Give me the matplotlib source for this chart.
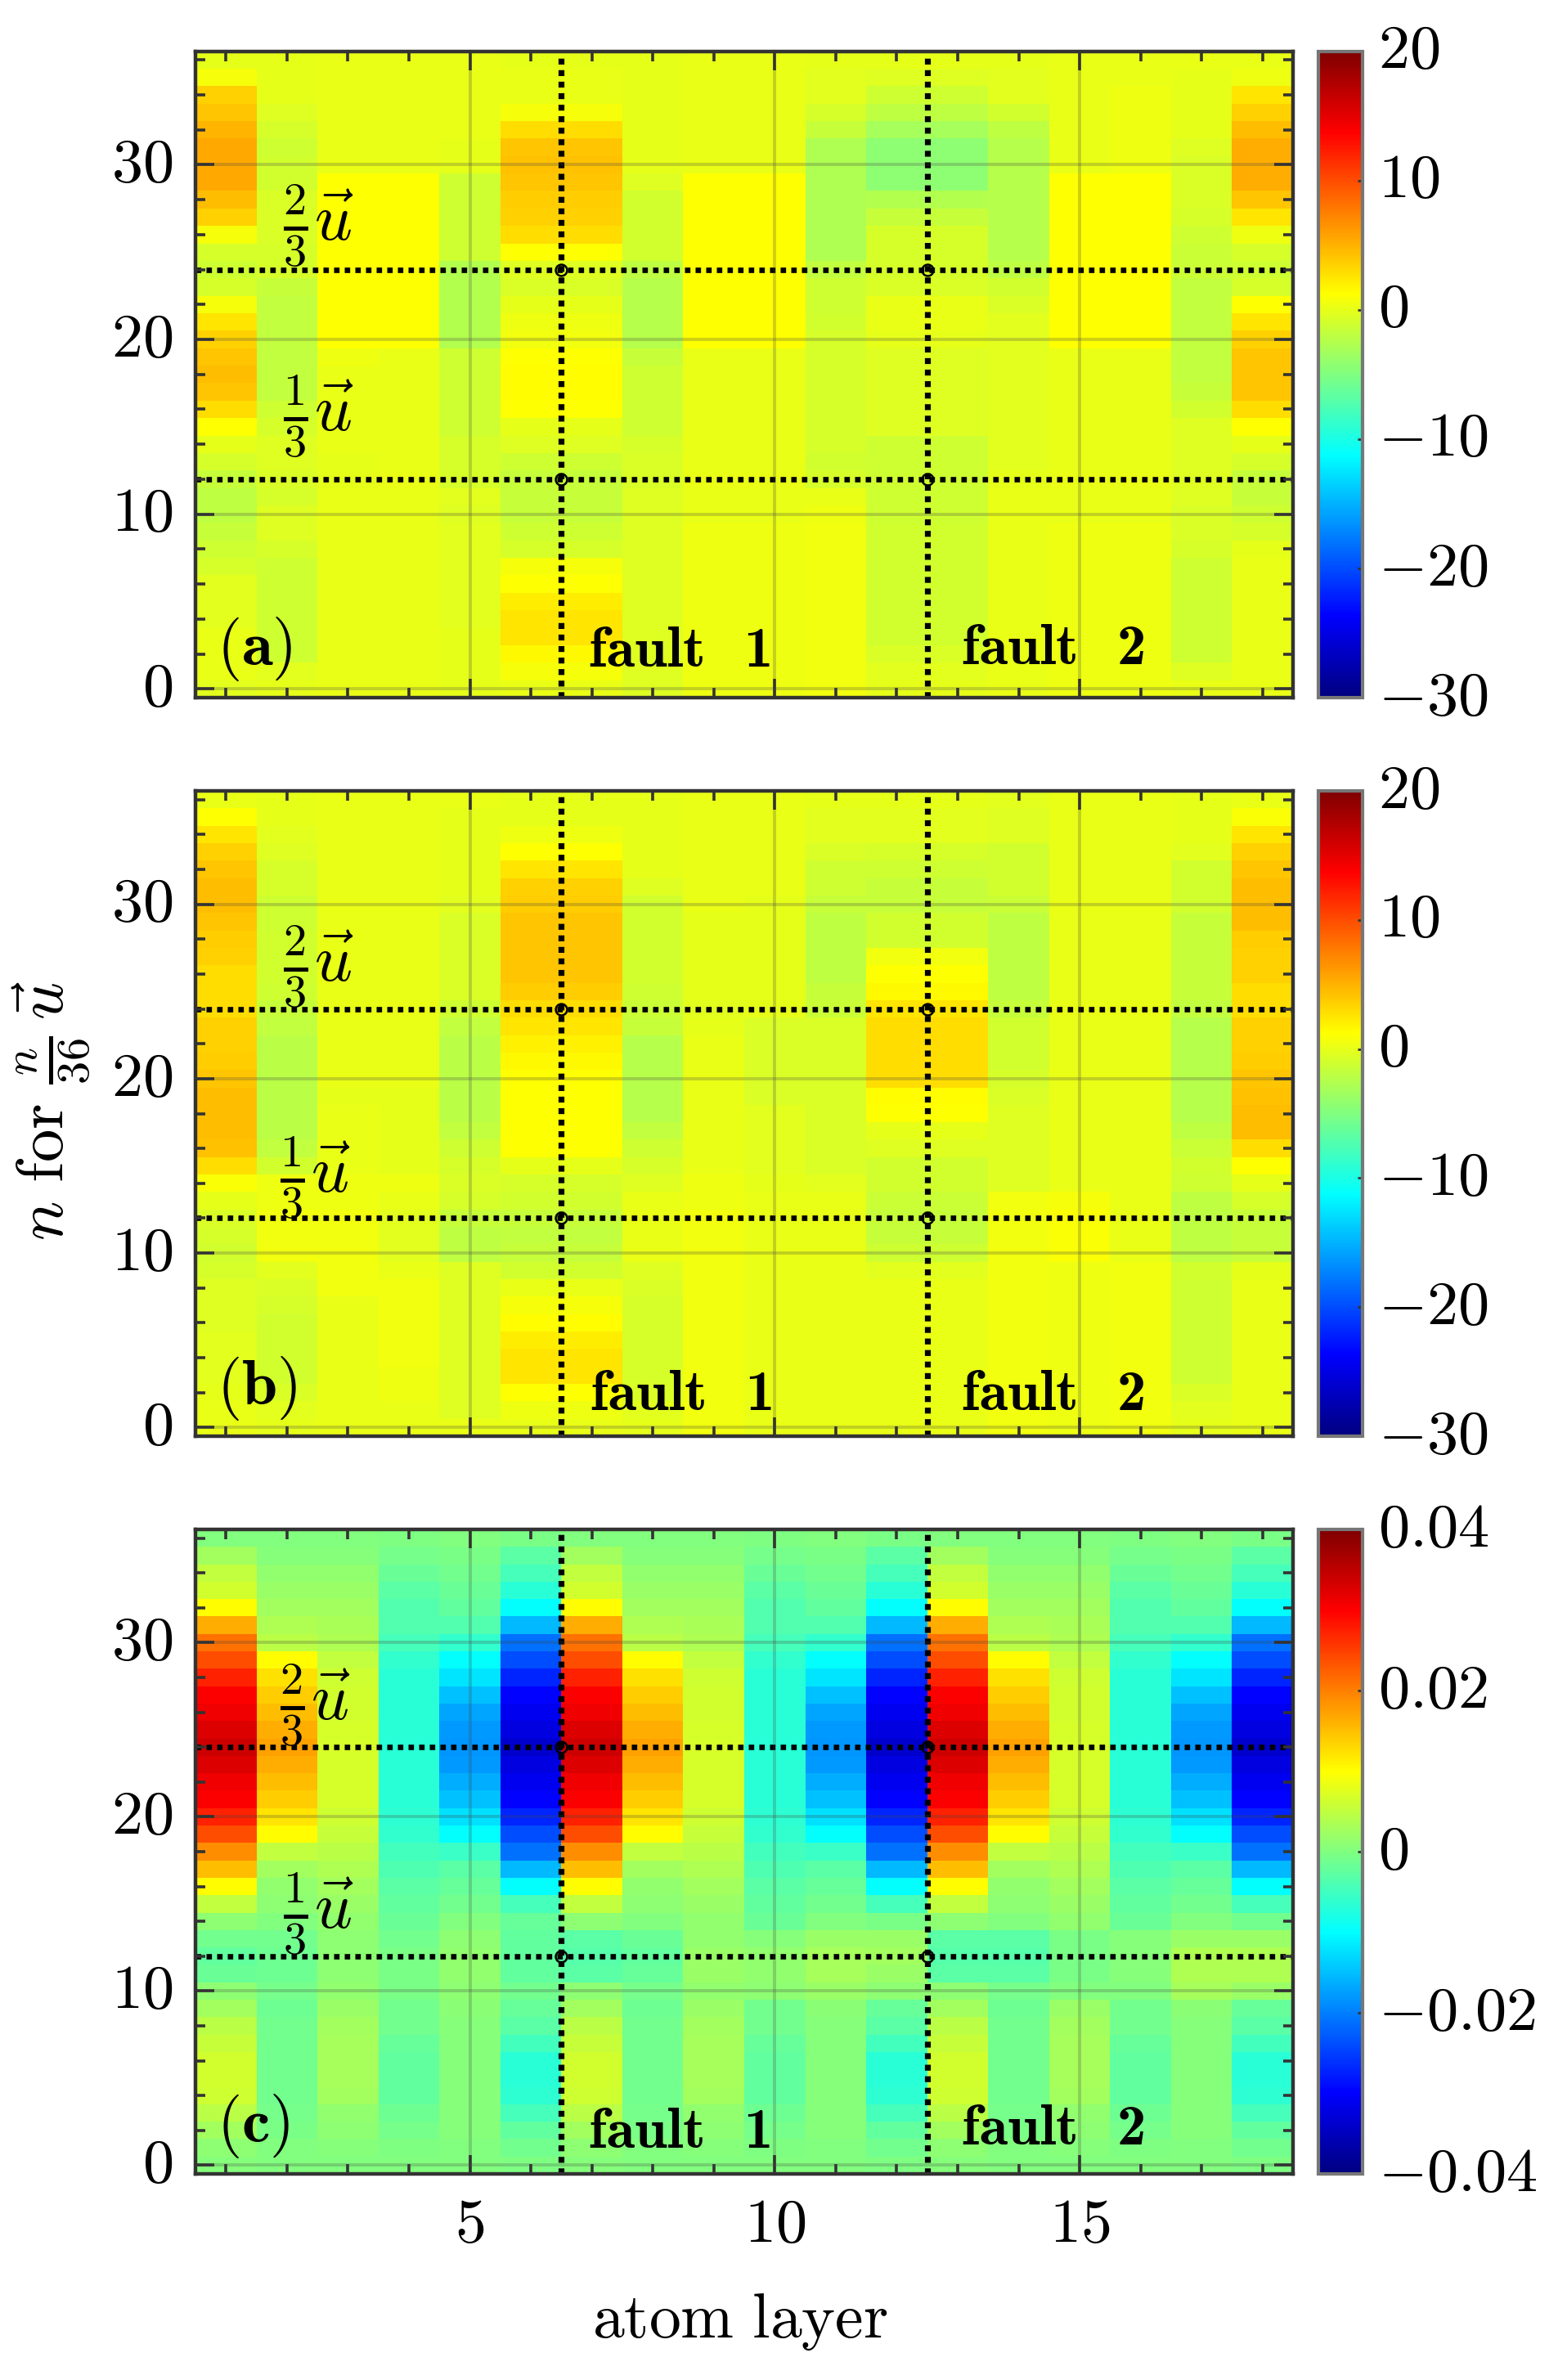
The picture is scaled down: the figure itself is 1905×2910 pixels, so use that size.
import numpy as np
import matplotlib
matplotlib.use('Agg')
import matplotlib.pyplot as plt
from matplotlib.colors import LinearSegmentedColormap
from matplotlib.transforms import ScaledTranslation

plt.rcParams['mathtext.fontset'] = 'cm'
plt.rcParams['font.family'] = ['cmr10', 'DejaVu Sans']
plt.rcParams['axes.formatter.use_mathtext'] = True

# every column runs from n=0 (bottom) to n=36 (top)
# panel (a)
a_col1 = [-.2,.2,.2,.2,-.2,-.2,-.2,-.8,-1.2,-1.6, -2,-2,-1.6,-.8,0,1.2,3,4,4.4,4, 3.4,2.6,.8,-.8,-1.2,-.8,.8,3.4,4.4,5.4, 5.4,5.4,4.8,4,3.4,.8,0]
a_col2 = [0,-.2,-1.2,-1.2,-1.2,-1.2,-1.2,-1.2,-.8,-.4, -.4,-.8,-.6,-.4,-.4,-.8,-1.2,-1.8,-1.8,-1.8, -1.8,-1.8,-1.8,-1.6,-.8,-.8,-.6,-.6,-.6,-1, -1,-1.2,-.8,-.4,0,0,0]
a_col3 = [.2,.2,.2,.2,.2,.2,.2,.2,.2,.2, .2,.1,0,0,.1,.1,.2,.2,.2,.4, 1.2,1.2,1.2,1.2,1.2,1.2,1.2,1.2,1.2,1.2, .1,.1,.2,.2,.2,.2,.1]
a_col4 = [.1,.1,.1,.1,.1,.1,.1,.1,.1,.1, .2,.1,.1,.1,.1,.1,.1,.1,.1,.1, 1.2,1.2,1.2,1.2,1.2,1.2,1.2,1.2,1.2,1.2, .1,.1,.1,.1,.1,.1,.1]
a_col5 = [0,0,0,0,-.2,-.2,-.2,-.2,-.2,-.2, -.4,-.2,-.8,-.8,-.8,-1.2,-1.2,-1.2,-1.2,-1.2, -2.6,-2.6,-2.6,-2.6,-2.6,-1.2,-1.2,-1.2,-1.2,-1.2, 0,0,.1,.1,.1,.1,.1]
a_col6 = [.2,.7,1.6,2.6,2.6,2.2,1.2,.8,-.8,-1.2, -1.6,-1.6,-1.6,-1.2,-.4,0,1.2,1.3,1.3,1.2, .6,.4,0,-.6,-.4,1.2,3,3.4,3.6,4, 4.2,4,3,.8,.2,.2,0]
a_col7 = a_col6
a_col8 = [-.4,-.4,-.4,-.4,-.4,-.4,-.4,-.4,-.4,-.4, -.4,-.4,-.6,-.6,-.8,-1.2,-1.2,-1.2,-1.2,-1.6, -2.4,-2.4,-2.4,-2.4,-2,-1,-1,-1,-1,-.4, 0,0,0,0,0,0,0]
a_col9 = [.3,.3,.3,.3,.3,.3,.3,.3,.3,.3, .2,.2,.1,.1,.2,.2,.2,.2,.2,.2, 1.2,1.2,1.2,1.2,1.2,1.2,1.2,1.2,1.2,1.2, .2,.2,.2,.2,.2,.1,.1]
a_col10 = [.3,.3,.3,.3,.3,.3,.3,.3,.3,.3, .2,.2,.1,.1,.1,.1,.1,.1,.1,.1, 1.2,1.2,1.2,1.2,1.2,1.2,1.2,1.2,1.2,1.2, .1,.1,.1,.1,.1,.1,.1]
a_col11 = [.5,.5,.5,.5,.5,.5,.5,.5,.5,.5, .3,.2,-.8,-1,-.8,-.8,-.8,-.8,-.8,-.8, -.8,-1,-1.2,-1.2,-1.8,-2.8,-2.8,-2.8,-2.8,-2.8, -2.8,-2.8,-1.6,-.8,-.2,-.2,0]
a_col12 = [0,-.2,-.6,-1,-1,-1,-1,-1,-1,-1, -1.2,-1.2,-1.2,-1.2,-1.2,-.4,-.4,-.4,-.4,-.4, 0,.2,.2,-.6,-.8,-.8,-.8,-1.6,-2.6,-4.4, -4.4,-4.4,-3.2,-2,-1.2,-.4,0]
a_col13 = a_col12
a_col14 = [.2,.2,.2,.2,.2,.2,.2,.2,.2,.2, .2,.1,0,-.2,-.2,-.2,-.2,-.2,-.2,-.2, -.2,-.2,-.6,-1,-2,-2.4,-2.4,-2.4,-2.4,-2.4, -2.4,-2.4,-2,-1,-.2,-.2,0]
a_col15 = [.3,.3,.3,.3,.3,.3,.3,.3,.3,.3, .2,.2,.2,.2,.2,.2,.2,.2,.2,.2, 1.2,1.2,1.2,1.2,1.2,1.2,1.2,1.2,1.2,1.2, .2,.2,.2,.2,.2,.2,.2]
a_col16 = [.3,.3,.3,.3,.3,.3,.3,.3,.3,.3, .2,.2,.2,.2,.2,.2,.2,.2,.2,.2, 1.2,1.2,1.2,1.2,1.2,1.2,1.2,1.2,1.2,1.2, .3,.3,.3,.3,.3,.2,.2]
a_col17 = [.1,-.4,-1.2,-1.2,-1.2,-1.2,-1.2,-1.2,-.8,-.6, -.6,-.4,-.4,-.4,-.4,-.4,-1,-1.6,-1.8,-1.8, -1.8,-1.8,-1.8,-1.8,-1.4,-1.4,-1.2,-.8,-.6,-.6, -.6,-.4,0,0,0,0,.1]
a_col18 = [.1,.1,.1,.1,.1,.1,.1,.1,0,-.8, -1.2,-1.6,-1.6,-.8,0,1.2,3,4,4,4, 3.4,2.6,1.2,-.8,-1.2,-.8,.4,2.6,4,5.2, 5.2,5.2,4.4,3.4,2.6,.4,.1]

# panel (b)
b_col1 = [.1,.1,0,-.2,-.2,-.2,-.4,-.4,-.4,-.8, -1,-.8,-.6,0,1,3,4.2,4.4,4.4,4.4, 4,3.6,3.4,3.4,3,3,3,3.4,3.6,4, 4.4,4.4,4,3.4,2.6,1.2,.1]
b_col2 = [0,-.2,-.6,-1,-1,-1,-1,-.8,-.6,-.2, .6,.6,.6,.3,.3,-1,-1.8,-2.2,-2.2,-2.2, -2.2,-2.2,-2.2,-1.8,-1.6,-1.2,-.9,-1,-1,-1.2, -1.2,-.8,-.8,-.4,-.2,-.1,0]
b_col3 = [.1,.2,.2,.2,.2,.2,.2,.2,.6,.6, .6,.6,.6,.4,.4,.1,.1,.1,.1,0, .1,.1,.1,.1,.2,.2,.2,.2,.2,.2, .2,.2,.2,.2,.2,.2,.1]
b_col4 = [.1,.2,.4,.4,.6,.6,.6,.6,.6,.2, -.2,-.2,-.2,.2,.4,0,0,0,0,0, .1,.1,.1,.1,.2,.2,.2,.2,.2,.2, .2,.2,.2,.2,.2,.2,.2]
b_col5 = [.1,-.4,-.4,-.4,-.4,-.4,-.4,-.4,-.4,-.4, -2,-2,-1.6,-.8,-.6,-.8,-1.2,-1.8,-2.2,-2.2, -2.2,-2.2,-2.2,-1.8,-1.2,-.6,-.6,-.6,-.6,-.6, -.2,0,0,0,0,0,.1]
b_col6 = [.2,.4,1.2,2.6,2.6,2.2,1.3,.8,.2,-1, -1.6,-1.8,-1.6,-1,-.8,0,1.2,1.2,1.2,1.2, 1.2,1.6,2,2.6,3,3.6,4,4,4,4, 3.6,3.4,2.6,1.2,.3,0,0]
b_col7 = b_col6
b_col8 = [0,-.2,-.6,-.8,-.8,-.8,-.8,-.8,-.6,-.4, .2,.2,.2,.1,-.4,-.8,-1.2,-1.8,-2.4,-2.4, -2.4,-2.4,-2.4,-1.6,-1.4,-1.2,-1,-1,-1,-1, -1,-.4,0,0,0,0,0]
b_col9 = [.6,.6,.6,.6,.6,.6,.6,.6,.6,.6, .6,.6,.6,.4,.4,.1,.1,.1,.1,.1, .1,.1,.1,-.1,-.2,0,0,0,0,0, .1,.2,.2,.2,.2,.2,.1]
b_col10 = [.2,.2,.2,.2,.2,.2,.2,.2,.2,.2, .2,.2,.2,.1,0,-.2,-.2,-.2,-.2,-.6, -.6,-.6,-.6,-.6,0,0,0,0,0,0, 0,.1,.1,.1,.1,.1,.1]
b_col11 = [.2,.2,.2,.2,.2,.2,.2,.2,.2,.2, .1,.1,.1,.1,-.2,-.6,-.6,-.6,-.6,-.6, -.6,-.6,-.6,-.6,-1.4,-1.6,-2,-2,-2,-2, -1.6,-1.2,-1.2,-.6,-.2,-.2,0]
b_col12 = [.2,.2,.2,.2,.2,.2,.2,.2,.2,-.2, -1.2,-1.6,-1.6,-1.4,-1,-1,-.4,0,1.2,1.3, 3,3,3,3,2.6,1.6,1.2,.6,-1,-1, -1.6,-1.6,-1.2,-.8,-.2,-.2,0]
b_col13 = b_col12
b_col14 = [.5,.5,.5,.5,.5,.5,.5,.5,.5,.5, .5,.5,.5,.5,-.4,-.4,-.4,-.4,-.4,-.6, -.8,-1,-1,-1,-1.6,-2,-2,-2,-2,-2, -1.4,-1,-1,-1,-.4,-.4,-.2]
b_col15 = [.4,.4,.4,.4,.4,.4,.4,.4,.4,.4, 1,1,1,.8,.2,.2,.2,.2,.2,.2, .2,.2,.2,.2,.2,.2,.2,.2,.2,.2, .2,.2,.2,.2,.2,.2,.1]
b_col16 = [.6,.6,.6,.6,.6,.6,.6,.6,.6,.6, .1,.1,.1,.2,.2,.2,.2,.2,.2,.2, .2,.2,.2,.2,.2,.2,.2,.2,.2,.2, .2,.2,.2,.2,.2,.2,.1]
b_col17 = [-.1,-.2,-.6,-1.2,-1.2,-1.2,-1.2,-1.2,-1.2,-1, -2,-2,-2,-2,-1.2,-1,-1.4,-2,-2.4,-2.4, -2.4,-2.4,-2.4,-2.4,-1.8,-1.6,-1.6,-1.6,-1.6,-1.6, -1,-1,-1,-.2,0,0,0]
b_col18 = [.1,.2,.2,.2,.2,.2,.2,.2,.2,0, -1.6,-1.6,-1.6,-.8,0,1.2,3,4.4,4.4,4.2, 4,3.6,3.4,3.4,3,3,3.4,3.4,3.6,4.4, 4.4,4.4,4,3.4,2.6,1,.1]

# panel (c), in units of 0.001
c_col1 = [.4,1.2,2.6,4.4,6,6.4,6.4,5.6,4.4,2.6, 1.2,-1.8,-2.4,-1.2,1.2,5,10,15,19,23.8, 27.2,30,31,32.5,34,32.5,31,30,27.2,23.8, 21.2,16.4,10,6.4,5,2.6,0]
c_col2 = [0,0,-.5,-.8,-1,-1,-1,-1,-1.2,-1.5, -.8,-1.5,-1.5,-1,0,1,1.5,2.6,5,10, 12,13.8,15,16.5,17.4,16.5,15,13.8,12.4,10, 4.5,3.5,2.6,2,1.5,.5,0]
c_col3 = [0,.5,1,1.5,2.6,3,3,3,2.6,2, 1.5,1,1,1,1.5,2,2.6,3.5,4.5,5.5, 6,6.6,6.6,6.6,6.6,6.6,6.4,6.4,6,5, 3.5,3.2,2.6,2,1.5,.5,0]
c_col4 = [0,-.3,-.8,-1.5,-2.4,-2.4,-2.4,-2,-1,-1, -.5,-.5,-.5,-1,-1.8,-2.4,-3,-4,-5,-6, -6.4,-6.6,-6.6,-6.6,-6.6,-6.6,-6.6,-6.6,-6.6,-6, -4.4,-3.5,-3.5,-3,-1.8,-.8,-.3]
c_col5 = [0,.3,.5,.5,.5,.5,.5,.5,.5,.8, 1,1.5,1.5,1,0,-1,-2,-3,-5.5,-10, -12.5,-15,-16.5,-18,-18.4,-18,-17,-15,-12,-10, -6,-3.5,-2.4,-1.8,-1.2,-.5,0]
c_col6 = [-.3,-1.2,-2.5,-4.4,-6.4,-6.6,-6.6,-5,-3,-2, -1,-2.4,-2.4,-2.4,-2,-4.4,-10,-15.5,-21,-23.8, -27,-30,-31,-32.5,-34,-32.5,-31,-30,-27,-23.8, -21,-15.5,-10,-6.6,-4.4,-3,-.5]
# the same layers one period on, differing near n=12
c_col7 = list(c_col1); c_col7[11:14] = [-3, -3.2, -3]
c_col8 = list(c_col2); c_col8[11:14] = [-2, -2.4, -1.8]
c_col9 = list(c_col3); c_col9[10:14] = [1.5, 2, 2, 1.5]
c_col10 = list(c_col4); c_col10[10:14] = [1, 1.5, 1.5, .5]
c_col11 = list(c_col5); c_col11[10:14] = [2, 3, 3, 2]
c_col12 = list(c_col6); c_col12[10:15] = [1, 2, 2.5, 2, -.5]
c_col13 = list(c_col1); c_col13[11:14] = [-3, -3.4, -3]
c_col14 = list(c_col2); c_col14[11:14] = [-3, -3.4, -3]
c_col15 = list(c_col3); c_col15[10:14] = [0, -.5, -.5, -.5]
c_col16 = list(c_col4); c_col16[10:14] = [0, .5, .5, .5]
c_col17 = list(c_col5); c_col17[10:14] = [3, 3.5, 3.5, 2]
c_col18 = list(c_col6); c_col18[10:15] = [2, 3.5, 3.5, 2, -1]

panel_a = np.array([a_col1, a_col2, a_col3, a_col4, a_col5, a_col6, a_col7, a_col8, a_col9,
                    a_col10, a_col11, a_col12, a_col13, a_col14, a_col15, a_col16, a_col17, a_col18]).T
panel_b = np.array([b_col1, b_col2, b_col3, b_col4, b_col5, b_col6, b_col7, b_col8, b_col9,
                    b_col10, b_col11, b_col12, b_col13, b_col14, b_col15, b_col16, b_col17, b_col18]).T
panel_c = np.array([c_col1, c_col2, c_col3, c_col4, c_col5, c_col6, c_col7, c_col8, c_col9,
                    c_col10, c_col11, c_col12, c_col13, c_col14, c_col15, c_col16, c_col17, c_col18]).T / 1000

layers = np.arange(1, 19)
shifts = np.arange(0, 37)
fault_layers = [6.5, 12.5]
fraction_rows = [12, 24]

cbar_ticks_ab = [-30, -20, -10, 0, 10, 20]
cbar_labels_ab = ['$-30$', '$-20$', '$-10$', '$0$', '$10$', '$20$']
cbar_ticks_c = [-0.04, -0.02, 0, 0.02, 0.04]
cbar_labels_c = ['$-0.04$', '$-0.02$', '$0$', '$0.02$', '$0.04$']

# MATLAB style jet, yellow sits at 0.625
jet_dict = {
    'red': [(0, 0, 0), (0.375, 0, 0), (0.625, 1, 1), (0.875, 1, 1), (1, 0.5, 0.5)],
    'green': [(0, 0, 0), (0.125, 0, 0), (0.375, 1, 1), (0.625, 1, 1), (0.875, 0, 0), (1, 0, 0)],
    'blue': [(0, 0.5, 0.5), (0.125, 1, 1), (0.375, 1, 1), (0.625, 0, 0), (1, 0, 0)],
}
jet = LinearSegmentedColormap('matlab_jet', jet_dict, N=256)

W, H = 1906, 2910
fig = plt.figure(figsize=(W / 200, H / 200), dpi=200)
TICK_FS = 27.5
nudge_up = ScaledTranslation(0, 2 / 72, fig.dpi_scale_trans)


def box(x0, y0, x1, y1):
    return [x0 / W, 1 - y1 / H, (x1 - x0) / W, (y1 - y0) / H]


def draw_panel(data, y0, y1, vmin, vmax, ticks, labels, tag, frac_pos, fault_pos, show_x):
    ax = fig.add_axes(box(239, y0, 1581, y1))
    im = ax.pcolormesh(np.arange(0.5, 19), np.arange(-0.5, 37), data, cmap=jet, vmin=vmin, vmax=vmax)
    ax.set_xlim(0.5, 18.5)
    ax.set_ylim(-0.5, 36.5)
    ax.set_xticks([5, 10, 15])
    ax.set_xticks(layers, minor=True)
    ax.set_yticks([0, 10, 20, 30])
    ax.set_yticks(shifts[::2], minor=True)
    ax.set_yticklabels(['$0$', '$10$', '$20$', '$30$'], fontsize=TICK_FS)
    if show_x:
        ax.set_xticklabels(['$5$', '$10$', '$15$'], fontsize=TICK_FS)
    else:
        ax.set_xticklabels([])
    ax.tick_params(which='major', direction='in', top=True, right=True, length=8.3, width=1.3, color='#333333')
    ax.tick_params(which='minor', direction='in', top=True, right=True, length=4.3, width=1.3, color='#333333')
    ax.tick_params(axis='y', which='major', pad=10)
    ax.tick_params(axis='x', which='major', pad=11)
    ax.grid(True, which='major', color='#444444', alpha=0.25, lw=1.4)
    ax.set_axisbelow(False)
    for s in ax.spines.values():
        s.set_linewidth(1.6)
        s.set_edgecolor('#333333')
    for lab in ax.get_yticklabels():
        lab.set_transform(lab.get_transform() + nudge_up)

    # fault planes and the 1/3, 2/3 shift lines
    for x in fault_layers:
        ax.axvline(x, color='black', lw=2.6, ls=(0, (1, 0.95)))
    for y in fraction_rows:
        ax.axhline(y, color='black', lw=2.4, ls=(0, (1, 0.95)))
        for x in fault_layers:
            ax.plot([x], [y], 'o', ms=5, mfc='none', mec='black', mew=0.9)

    ax.text(0.85, 1.35, r'$\mathbf{(%s)}$' % tag, fontsize=28, va='baseline', ha='left')
    ax.text(fault_pos[0][0], fault_pos[0][1], 'fault  1', family='cmb10', fontsize=25.5, va='baseline')
    ax.text(fault_pos[1][0], fault_pos[1][1], 'fault  2', family='cmb10', fontsize=25.5, va='baseline')
    ax.text(frac_pos[0][0], frac_pos[0][1], r'$\frac{2}{3}\vec{u}$', fontsize=29, va='center')
    ax.text(frac_pos[1][0], frac_pos[1][1], r'$\frac{1}{3}\vec{u}$', fontsize=29, va='center')

    cax = fig.add_axes(box(1612, y0, 1666, y1))
    cb = fig.colorbar(im, cax=cax, ticks=ticks)
    cb.ax.set_yticklabels(labels, fontsize=TICK_FS)
    cb.ax.tick_params(direction='in', length=2, width=1, color='#333333', pad=7)
    for lab in cb.ax.get_yticklabels():
        lab.set_transform(lab.get_transform() + nudge_up)
    cb.outline.set_linewidth(1.5)
    cb.outline.set_edgecolor('#777777')
    return ax


draw_panel(panel_a, 62.5, 853, -30, 20, cbar_ticks_ab, cbar_labels_ab, 'a',
           [(1.93, 26.5), (1.93, 15.6)], [(6.95, 1.3), (13.07, 1.4)], False)
draw_panel(panel_b, 967, 1756, -30, 20, cbar_ticks_ab, cbar_labels_ab, 'b',
           [(1.93, 26.4), (1.88, 14.3)], [(6.98, 1.0), (13.07, 1.0)], False)
draw_panel(panel_c, 1870, 2658, -0.04, 0.04, cbar_ticks_c, cbar_labels_c, 'c',
           [(1.88, 26.4), (1.93, 14.4)], [(6.95, 1.0), (13.07, 1.2)], True)

fig.text(63 / W, 1 - 1358 / H, r'$n\ \mathrm{for}\ \frac{n}{36}\,\vec{u}$', rotation=90,
         fontsize=29, ha='center', va='center')
fig.text(905 / W, 1 - 2839 / H, r'$\mathrm{atom\ layer}$', fontsize=28, ha='center', va='center')

fig.savefig('out.png', dpi=200)
